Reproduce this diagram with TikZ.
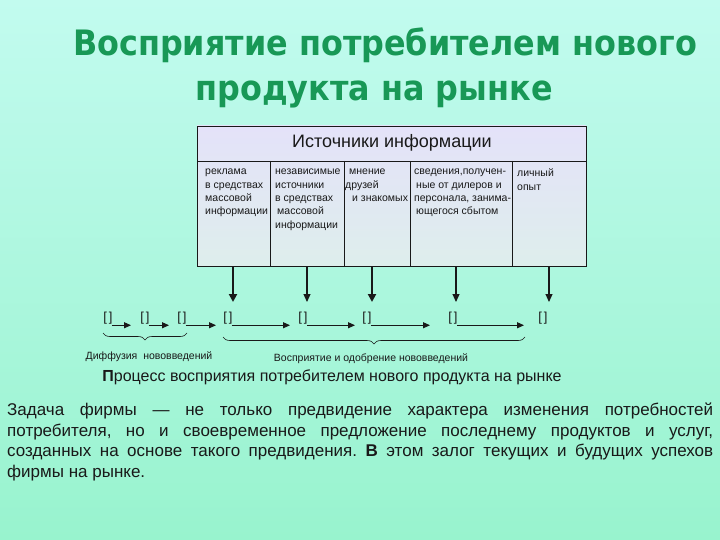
\documentclass[tikz,border=0pt]{standalone}
\usepackage{fontspec}
\setmainfont{Liberation Sans}
\newfontfamily\titlefont[FakeStretch=0.91]{DejaVu Sans}
\usetikzlibrary{arrows.meta,decorations.pathreplacing,calc}
\definecolor{bgtop}{RGB}{194,251,239}
\definecolor{bgbot}{RGB}{152,243,206}
\definecolor{titlegreen}{RGB}{24,152,86}
\definecolor{tbltop}{RGB}{228,226,249}
\definecolor{tblbot}{RGB}{222,238,236}
\definecolor{ink}{RGB}{25,25,25}
\frenchspacing
\tikzset{
  titletext/.style={font=\titlefont\bfseries\fontsize{35}{40}\selectfont, text=titlegreen, inner sep=0, anchor=base},
  coltext/.style={font=\fontsize{10.5}{13.3}\selectfont, text=ink, inner sep=0, anchor=north west, align=left},
  brk/.style={font=\fontsize{13}{13}\selectfont, text=ink, inner sep=0},
  thinarrow/.style={draw=ink, line width=1.1pt, -{Triangle[length=8pt,width=7pt]}},
  thickarrow/.style={draw=ink, line width=2.2pt, -{Triangle[length=8pt,width=8pt]}},
  harrow/.style={draw=ink, line width=1pt, -{Triangle[length=7pt,width=6pt]}},
  bracegraph/.style={draw=ink, line width=0.6pt, decorate, decoration={brace, mirror, amplitude=7pt}},
  smalllabel/.style={font=\fontsize{10.5}{12}\selectfont, text=ink, inner sep=0},
}
\begin{document}
\begin{tikzpicture}[x=1pt,y=-1pt]
\useasboundingbox (0,0) rectangle (720,540);
\shade[top color=bgtop, bottom color=bgbot] (0,0) rectangle (720,540);

% title
\node[titletext] (t1) at (385,56) {Восприятие потребителем нового};
\node[titletext] (t2) at (374,101) {продукта на рынке};

% table
\node[draw=ink, line width=0.8pt, top color=tbltop, bottom color=tblbot, minimum width=389pt, minimum height=140pt, inner sep=0] (tbl) at (391.5,196) {};
\coordinate (hl) at (197,161);
\coordinate (hr) at (586,161);
\draw[ink, line width=0.8pt] (hl) -- (hr);
\node[font=\fontsize{18}{20}\selectfont, text=ink, inner sep=0] (hdr) at (392,143) {Источники информации};
\foreach \x in {270,344,410,512} {
  \draw[ink, line width=0.8pt] (\x,161) -- (tbl.south -| \x,0);
}
\node[coltext] (c1) at (205,169) {реклама\\в средствах\\массовой\\информации};
\node[coltext] (c2) at (275,169) {независимые\\источники\\в средствах\\\hspace{2pt}массовой\\информации};
\node[coltext] (c3) at (345,169) {\hspace{4pt}мнение\\друзей\\\hspace{7pt}и знакомых};
\node[coltext] (c4) at (414,169) {сведения,получен-\\\hspace{2pt}ные от дилеров и\\персонала, занима-\\\hspace{2pt}ющегося сбытом};
\node[coltext] (c5) at (517,169) {личный\\опыт};

% bracket items
\foreach \i/\x in {1/108,2/145,3/182,4/228,5/303,6/367,7/453,8/543} {
  \node[brk] (b\i) at (\x,318) {[\hspace{2pt}]};
}

% vertical arrows
\coordinate (v1) at (233,302);
\coordinate (v2) at (307,302);
\coordinate (v3) at (372,302);
\coordinate (v4) at (456,302);
\coordinate (v5) at (549,302);
\draw[thickarrow] (tbl.south -| v1) -- (v1);
\draw[thinarrow] (tbl.south -| v2) -- (v2);
\draw[thickarrow] (tbl.south -| v3) -- (v3);
\draw[thinarrow] (tbl.south -| v4) -- (v4);
\draw[thinarrow] (tbl.south -| v5) -- (v5);

% horizontal arrows
\foreach \i/\e in {1/131,2/169,3/216,4/290,5/355,6/430,7/524} {
  \coordinate (e\i) at (\e,0);
  \draw[harrow] ([xshift=-1pt,yshift=-1pt]b\i.south east) -- ([yshift=-1pt]b\i.south east -| e\i);
}

% braces
\coordinate (br1a) at (103,333);
\coordinate (br1b) at (187,333);
\coordinate (br2a) at (223,337);
\coordinate (br2b) at (525,337);
\draw[bracegraph] (br1a) -- (br1b);
\draw[bracegraph] (br2a) -- (br2b);

\node[smalllabel] (l1) at (149,357) {Диффузия\ \ нововведений};
\node[smalllabel] (l2) at (371,359) {Восприятие и одобрение нововведений};

\node[font=\fontsize{16}{18}\selectfont, text=ink, inner sep=0] (cap) at (332,377) {\textbf{П}роцесс восприятия потребителем нового продукта на рынке};

% paragraph
\node[font=\fontsize{17}{20.7}\selectfont, text=ink, inner sep=0, anchor=north west, text width=706pt, align=justify] (par) at (7,402.5)
{Задача фирмы — не только предвидение характера изменения потребностей\linebreak потребителя, но и своевременное предложение последнему продуктов и услуг,\linebreak созданных на основе такого предвидения. \textbf{В} этом залог текущих и будущих успехов\linebreak фирмы на рынке.};
\end{tikzpicture}
\end{document}
